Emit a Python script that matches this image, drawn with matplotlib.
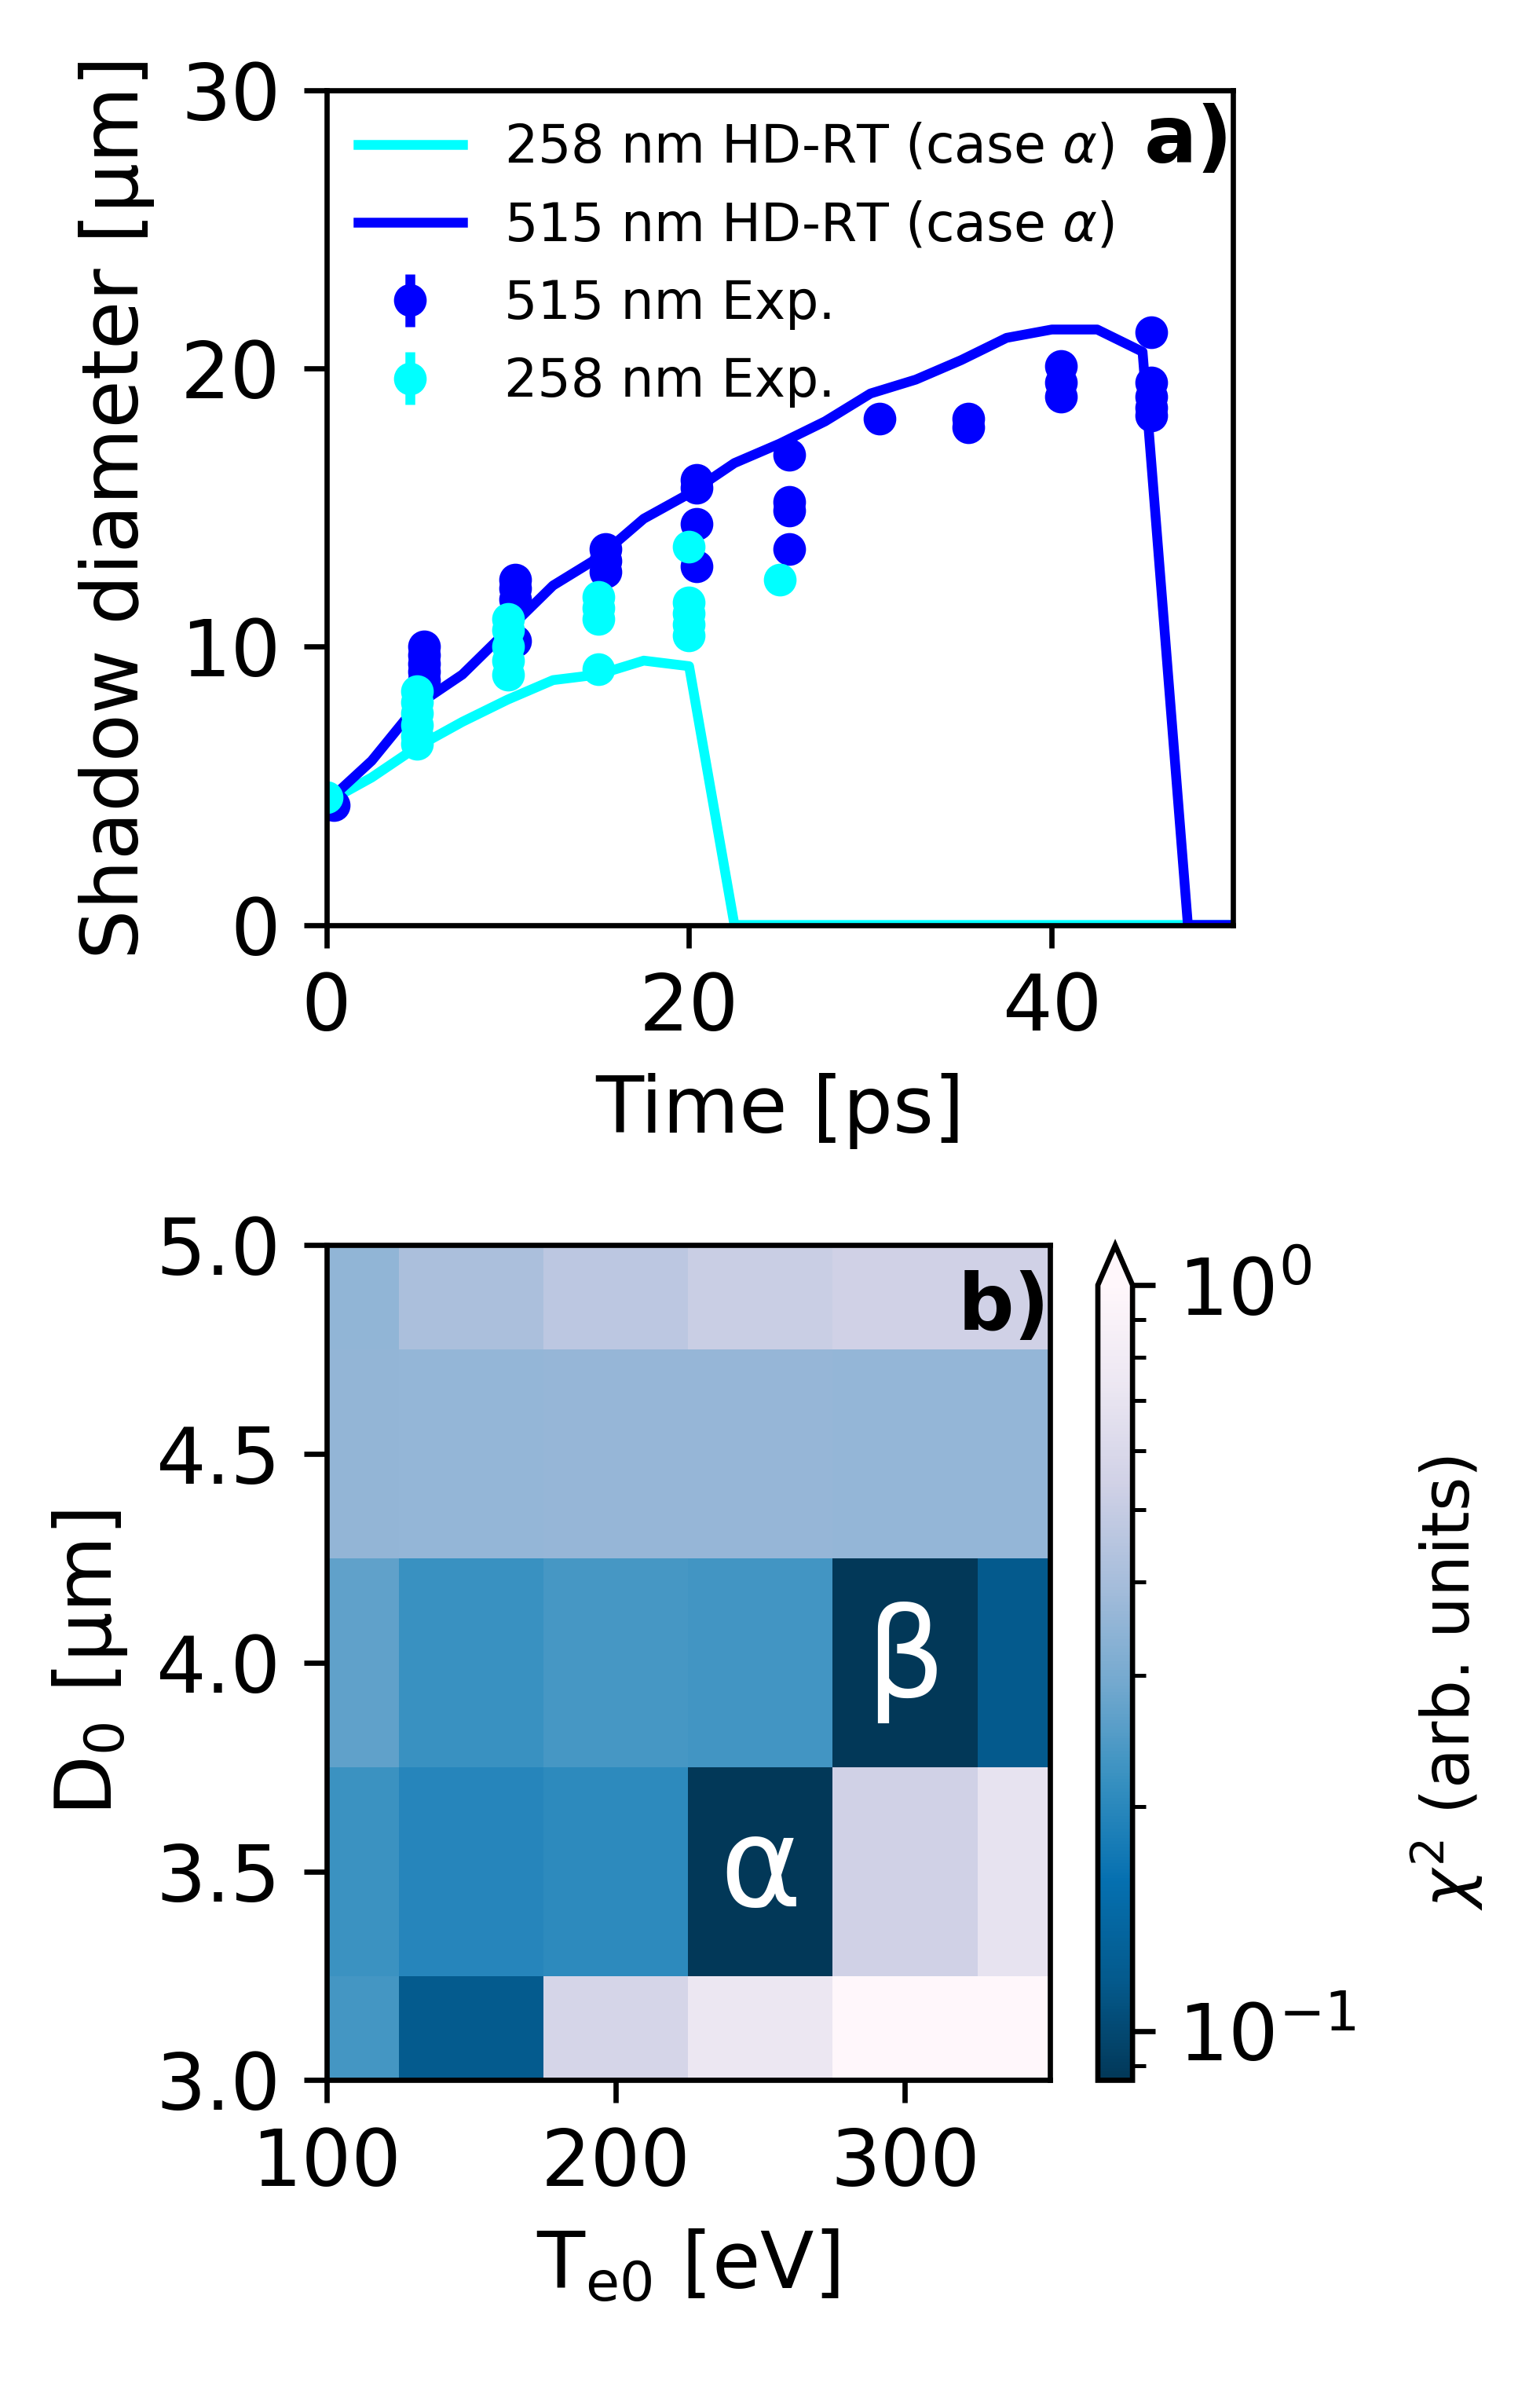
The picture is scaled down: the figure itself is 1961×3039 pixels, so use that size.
import numpy as np
import matplotlib
matplotlib.use("Agg")
import matplotlib.pyplot as plt
from matplotlib.colors import LogNorm

# panel a: simulated shadow diameter (HD-RT, case alpha)
t_sim = [0, 2.5, 5, 7.5, 10, 12.5, 15, 17.5, 20, 22.5, 25, 27.5, 30, 32.5,
         35, 37.5, 40, 42.5, 45, 47.5, 50]
d_258_sim = [4.4, 5.3, 6.4, 7.3, 8.1, 8.8, 9.0, 9.5, 9.3, 0, 0, 0, 0, 0,
             0, 0, 0, 0, 0, 0, 0]
d_515_sim = [4.4, 5.9, 7.9, 9.0, 10.6, 12.2, 13.2, 14.6, 15.5, 16.6, 17.3, 18.1,
             19.1, 19.6, 20.3, 21.1, 21.4, 21.4, 20.6, 0, 0]

# panel a: experimental points
t_515_exp = [0.4,
             5.4, 5.4, 5.4, 5.4, 5.4,
             10.4, 10.4, 10.4, 10.4,
             15.4, 15.4, 15.4,
             20.4, 20.4, 20.4, 20.4,
             25.5, 25.5, 25.5, 25.5,
             30.5,
             35.4, 35.4,
             40.5, 40.5, 40.5,
             45.5, 45.5, 45.5, 45.5, 45.5]
d_515_exp = [4.3,
             10.0, 9.7, 9.4, 9.1, 8.8,
             12.4, 12.1, 11.7, 10.2,
             13.5, 13.1, 12.7,
             16.0, 15.7, 14.4, 12.9,
             16.9, 15.2, 14.9, 13.5,
             18.2,
             18.2, 17.9,
             20.1, 19.5, 19.0,
             21.3, 19.5, 19.0, 18.6, 18.3]
t_258_exp = [0.0,
             5.0, 5.0, 5.0, 5.0, 5.0, 5.0,
             10.0, 10.0, 10.0, 10.0, 10.0,
             15.0, 15.0, 15.0, 15.0,
             20.0, 20.0, 20.0, 20.0, 20.0,
             25.0]
d_258_exp = [4.6,
             8.4, 8.0, 7.6, 7.2, 6.8, 6.5,
             11.0, 10.6, 10.0, 9.5, 9.0,
             11.8, 11.4, 11.0, 9.2,
             13.6, 11.6, 11.2, 10.8, 10.4,
             12.4]
err_515 = 0.2
err_258 = 0.2

# panel b: chi^2 map
Te0 = [100, 150, 200, 250, 300, 350]
D0 = [3.0, 3.5, 4.0, 4.5, 5.0]
chi2 = [
    [0.233, 0.118, 0.57, 0.735, 1.2, 1.2],      # D0 = 3.0
    [0.220, 0.195, 0.204, 0.080, 0.54, 0.70],   # D0 = 3.5
    [0.265, 0.219, 0.235, 0.229, 0.085, 0.117], # D0 = 4.0
    [0.355, 0.357, 0.360, 0.360, 0.358, 0.358], # D0 = 4.5
    [0.350, 0.414, 0.468, 0.514, 0.54, 0.54],   # D0 = 5.0
]

plt.rcParams["font.size"] = 12

fig = plt.figure(figsize=(1961 / 600, 3039 / 600), dpi=600)

# ---- a)
ax1 = fig.add_axes([0.2119, 0.6125, 0.5889, 0.3497])
ax1.plot(t_sim, d_258_sim, color="cyan", lw=1.5, label=r"258 nm HD-RT (case $\alpha$)")
ax1.plot(t_sim, d_515_sim, color="blue", lw=1.5, label=r"515 nm HD-RT (case $\alpha$)")
ax1.errorbar(t_515_exp, d_515_exp, yerr=err_515, fmt="o", color="blue", ms=4,
             label="515 nm Exp.")
ax1.errorbar(t_258_exp, d_258_exp, yerr=err_258, fmt="o", color="cyan", ms=4,
             label="258 nm Exp.")
ax1.set_xlim(0, 50)
ax1.set_ylim(0, 30)
ax1.set_xticks([0, 20, 40])
ax1.set_yticks([0, 10, 20, 30])
ax1.set_xlabel("Time [ps]")
ax1.set_ylabel("Shadow diameter [μm]")
ax1.legend(loc="upper left", fontsize=8, frameon=False, borderaxespad=0.2)
ax1.text(1.0, 0.985, "a)", transform=ax1.transAxes, ha="right", va="top",
         fontweight="bold", fontsize=12)

# ---- b)
ax2 = fig.add_axes([0.2119, 0.1285, 0.4697, 0.3498])
mesh = ax2.pcolormesh(Te0, D0, np.array(chi2), shading="nearest", cmap="PuBu_r",
                      norm=LogNorm(vmin=0.086, vmax=1.0))
ax2.set_xlim(100, 350)
ax2.set_ylim(3.0, 5.0)
ax2.set_xticks([100, 200, 300])
ax2.set_yticks([3.0, 3.5, 4.0, 4.5, 5.0])
ax2.set_xlabel(r"T$_{\mathrm{e0}}$ [eV]")
ax2.set_ylabel(r"D$_0$ [μm]")
ax2.text(250, 3.5, "α", color="white", ha="center", va="center", fontsize=19)
ax2.text(300, 4.0, "β", color="white", ha="center", va="center", fontsize=19)
ax2.text(1.0, 0.97, "b)", transform=ax2.transAxes, ha="right", va="top",
         fontweight="bold", fontsize=12)

cax = fig.add_axes([0.7129, 0.1285, 0.0225, 0.3498])
cb = fig.colorbar(mesh, cax=cax, extend="max")
cb.set_label(r"$\chi^2$ (arb. units)", fontsize=10, labelpad=8)

fig.savefig("out.png", dpi=600)
